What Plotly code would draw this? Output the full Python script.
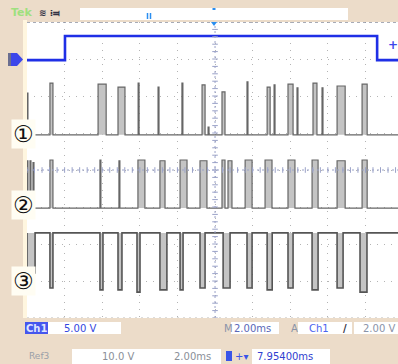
import plotly.graph_objects as go

W, H = 398, 364

# ---------------- data (time in ms, level in divisions) ----------------
ch1_t = [0.0, 2.02, 2.02, 18.62, 18.62, 19.73]
ch1_v = [6.97, 6.97, 7.62, 7.62, 6.97, 6.97]

ref1_base = 4.95
ref1_start = [0.0, 1.22, 3.78, 4.84, 5.91, 6.97, 8.24, 9.31, 9.63, 10.37, 11.70, 12.77, 13.14, 13.88, 14.36, 15.21, 15.69, 16.49, 17.82]
ref1_width = [0.05, 0.16, 0.43, 0.37, 0.05, 0.05, 0.05, 0.16, 0.05, 0.16, 0.05, 0.16, 0.05, 0.27, 0.05, 0.21, 0.05, 0.43, 0.27]
ref1_level = [6.08, 6.35, 6.32, 6.24, 6.35, 6.24, 6.35, 6.30, 5.16, 6.11, 6.38, 6.24, 6.30, 6.32, 6.22, 6.35, 6.22, 6.27, 6.32]

ref2_base = 2.97
ref2_start = [0.0, 0.16, 0.32, 1.22, 3.88, 4.89, 5.90, 7.07, 8.14, 9.20, 10.37, 10.69, 11.60, 12.66, 13.88, 15.16, 16.49, 17.82]
ref2_width = [0.05, 0.05, 0.05, 0.16, 0.05, 0.05, 0.37, 0.27, 0.37, 0.37, 0.16, 0.21, 0.37, 0.37, 0.37, 0.32, 0.43, 0.27]
ref2_level = [4.25, 4.25, 4.20, 4.27, 4.27, 4.25, 4.27, 4.25, 4.27, 4.25, 4.27, 4.25, 4.27, 4.27, 4.27, 4.27, 4.25, 4.27]

ref3_base = 2.30
ref3_start = [0.0, 1.22, 3.88, 4.84, 5.85, 7.07, 8.14, 9.20, 10.43, 11.70, 12.77, 13.88, 15.16, 16.49, 17.71]
ref3_width = [0.43, 0.16, 0.16, 0.21, 0.16, 0.37, 0.16, 0.27, 0.37, 0.27, 0.27, 0.27, 0.32, 0.32, 0.37]
ref3_level = [1.22, 0.81, 0.76, 0.76, 0.70, 0.76, 0.76, 0.81, 0.81, 0.81, 0.76, 0.81, 0.76, 0.81, 0.70]

X_END = 19.73
labels = ["①", "②", "③"]
status1 = ["5.00 V", "2.00ms", "Ch1", "2.00 V"]
status2 = ["Ref3", "10.0 V", "2.00ms", "7.95400ms"]

# ---------------- helpers ----------------
def px(x):
    return x / W

def py(y):
    return 1 - y / H

def step_path(starts, widths, levels, base):
    xs, ys = [0.0], [base]
    for s, w, l in zip(starts, widths, levels):
        xs += [s, s, s + w, s + w]
        ys += [base, l, l, base]
    xs.append(X_END)
    ys.append(base)
    return xs, ys

def fill_path(starts, widths, levels, base):
    xs, ys = [], []
    for s, w, l in zip(starts, widths, levels):
        xs += [s, s, s + w, s + w, s, None]
        ys += [base, l, l, base, base, None]
    return xs, ys

fig = go.Figure()

for (st, wd, lv, bs, lw, col) in [
    (ref1_start, ref1_width, ref1_level, ref1_base, 1.2, "#666666"),
    (ref2_start, ref2_width, ref2_level, ref2_base, 1.2, "#666666"),
    (ref3_start, ref3_width, ref3_level, ref3_base, 1.6, "#555555"),
]:
    fx, fy = fill_path(st, wd, lv, bs)
    fig.add_trace(go.Scatter(x=fx, y=fy, mode="lines", fill="toself",
                             fillcolor="#c4c4c4", line=dict(width=0),
                             hoverinfo="skip", showlegend=False))
    sx, sy = step_path(st, wd, lv, bs)
    fig.add_trace(go.Scatter(x=sx, y=sy, mode="lines",
                             line=dict(color=col, width=lw),
                             hoverinfo="skip", showlegend=False))

fig.add_trace(go.Scatter(x=ch1_t, y=ch1_v, mode="lines",
                         line=dict(color="#1f2fe6", width=2.6),
                         hoverinfo="skip", showlegend=False))

# centre cross-hair tick marks
cx = [10.0] * 41
cy = [i * 0.2 for i in range(41)]
fig.add_trace(go.Scatter(x=cx, y=cy, mode="markers",
                         marker=dict(symbol="line-ew", size=4, line=dict(color="#9aa2c8", width=1)),
                         hoverinfo="skip", showlegend=False))
hx = [i * 0.4 for i in range(50)]
hy = [4.0] * 50
fig.add_trace(go.Scatter(x=hx, y=hy, mode="markers",
                         marker=dict(symbol="line-ns", size=4, line=dict(color="#9aa2c8", width=1)),
                         hoverinfo="skip", showlegend=False))

BEIGE = "#ecdcc9"
BLUE_T = "#3447e0"
GRAY_T = "#8a93a8"

shapes = []
# cream strip left of graticule
shapes.append(dict(type="rect", xref="paper", yref="paper", x0=px(23), x1=px(27), y0=py(318), y1=py(20),
                   fillcolor="#fff6df", line=dict(width=0), layer="below"))
# top white box
shapes.append(dict(type="rect", xref="paper", yref="paper", x0=px(80), x1=px(348), y0=py(20), y1=py(8),
                   fillcolor="white", line=dict(width=0)))
# blue marker in top box
for xx in (147.5, 150.5):
    shapes.append(dict(type="line", xref="paper", yref="paper", x0=px(xx), x1=px(xx), y0=py(19), y1=py(13),
                       line=dict(color="#2a8ef0", width=1.5)))
# center vertical / horizontal dotted lines
shapes.append(dict(type="line", xref="x", yref="y", x0=10, x1=10, y0=0, y1=8,
                   line=dict(color="#9aa2c8", width=1, dash="2px,3px")))
shapes.append(dict(type="line", xref="x", yref="y", x0=0, x1=X_END, y0=4, y1=4,
                   line=dict(color="#9aa2c8", width=1, dash="2px,3px")))
# graticule borders
shapes.append(dict(type="line", xref="x", yref="y", x0=0, x1=X_END, y0=8, y1=8,
                   line=dict(color="#8a90a0", width=1.5, dash="3px,3px")))
shapes.append(dict(type="line", xref="x", yref="y", x0=0, x1=X_END, y0=0, y1=0,
                   line=dict(color="#b8b8b8", width=1, dash="2px,4px")))
# ground marker (ch1)
shapes.append(dict(type="path", xref="paper", yref="paper",
                   path=f"M {px(8)} {py(53)} L {px(17)} {py(53)} L {px(23)} {py(59.5)} L {px(17)} {py(66)} L {px(8)} {py(66)} Z",
                   fillcolor="#3c46ea", line=dict(width=0)))
shapes.append(dict(type="rect", xref="paper", yref="paper", x0=px(8), x1=px(11), y0=py(66), y1=py(53),
                   fillcolor="#6a6e90", line=dict(width=0)))
# trigger position marker at top
shapes.append(dict(type="path", xref="paper", yref="paper",
                   path=f"M {px(211)} {py(22)} L {px(217)} {py(22)} L {px(214)} {py(26)} Z",
                   fillcolor="#2a8ef0", line=dict(width=0)))
shapes.append(dict(type="rect", xref="paper", yref="paper", x0=px(212.5), x1=px(215.5), y0=py(10), y1=py(8),
                   fillcolor="#2a8ef0", line=dict(width=0)))

# status boxes
def box(x0, x1, y0, y1, color="white"):
    shapes.append(dict(type="rect", xref="paper", yref="paper", x0=px(x0), x1=px(x1), y0=py(y1), y1=py(y0),
                       fillcolor=color, line=dict(width=0)))

box(25, 48, 322, 334, "#4556ee")
box(48, 121, 322, 334)
box(231, 279, 322, 334)
box(298, 352, 322, 334)
box(354, 398, 322, 334)
box(72, 221, 349, 364)
box(252, 330, 349, 364)
# small blue icon (row 2)
box(226, 232, 351, 361, "#3a55e8")

annotations = []
def text(x, y, s, color, size=10, anchor="left", bg=None, family="DejaVu Sans"):
    d = dict(xref="paper", yref="paper", x=px(x), y=py(y), text=s, showarrow=False,
             xanchor=anchor, yanchor="middle", font=dict(family=family, size=size, color=color))
    if bg:
        d["bgcolor"] = bg
    annotations.append(d)

text(9, 13, "<b>Tek</b>", "#9fe07f", size=11)
text(37, 13, "<b>≋ ⁞⫤</b>", "#333344", size=9)

for lab, yy in zip(labels, [134, 205, 281]):
    annotations.append(dict(xref="paper", yref="paper", x=px(23), y=py(yy), text=lab, showarrow=False,
                            xanchor="center", yanchor="middle", bgcolor="#fffdf3",
                            font=dict(family="DejaVu Sans", size=23, color="#111111")))

text(36.5, 328, "<b>Ch1</b>", "#dfe4ff", size=10, anchor="center")
text(62, 328, status1[0], BLUE_T, size=10)
text(222, 328, "M", GRAY_T, size=10)
text(232, 328, status1[1], "#5a68b8", size=10)
text(289, 328, "A", GRAY_T, size=10)
text(307, 328, status1[2], "#4a63f0", size=10)
text(341, 328, "<b>/</b>", "#333344", size=10)
text(397, 328, status1[3], GRAY_T, size=10, anchor="right")

text(27, 356, status2[0], "#9aa0a8", size=9)
text(100, 356, status2[1], "#8a8f98", size=10)
text(172, 356, status2[2], "#8a8f98", size=10)
text(233, 356, "+▾", "#3a55e8", size=10)
text(255, 356, status2[3], "#3040d0", size=10)

# trigger level marker
text(393, 45, "<b>+</b>", "#3c46ea", size=12, anchor="center")

fig.update_layout(
    width=W, height=H,
    margin=dict(l=0, r=0, t=0, b=0),
    paper_bgcolor=BEIGE,
    plot_bgcolor="white",
    shapes=shapes,
    annotations=annotations,
    xaxis=dict(domain=[px(27), 1.0], range=[0, X_END], dtick=2, tick0=0,
               showgrid=True, gridcolor="#b4b4b4", griddash="1px,6px", gridwidth=1,
               zeroline=False, showticklabels=False, ticks="", showline=False, fixedrange=True),
    yaxis=dict(domain=[py(318), py(22)], range=[0, 8], dtick=1, tick0=0,
               showgrid=True, gridcolor="#b4b4b4", griddash="1px,6px", gridwidth=1,
               zeroline=False, showticklabels=False, ticks="", showline=False, fixedrange=True),
    showlegend=False,
)

fig.write_html("out.html", config={"displayModeBar": False},
               post_script="document.body.style.margin='0';document.body.style.overflow='hidden';")
